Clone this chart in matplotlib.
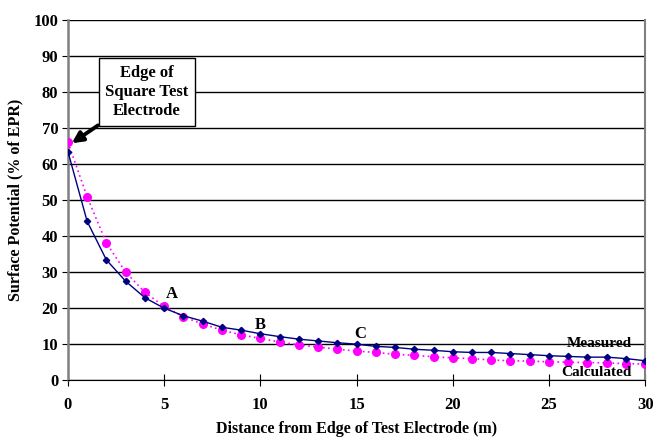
import numpy as np
import matplotlib.pyplot as plt

# Data
distance = list(range(0, 31))
measured = [63.5, 44.1, 33.4, 27.5, 22.9, 20.0, 17.9, 16.4, 14.7, 13.9,
            12.9, 12.1, 11.4, 10.9, 10.4, 10.0, 9.4, 9.1, 8.6, 8.3,
            7.9, 7.7, 7.7, 7.4, 7.1, 6.8, 6.6, 6.4, 6.4, 6.0, 5.4]
calculated = [66.1, 50.9, 38.1, 30.0, 24.4, 20.5, 17.6, 15.6, 13.9, 12.6,
              11.6, 10.6, 9.8, 9.2, 8.6, 8.1, 7.7, 7.2, 6.9, 6.5,
              6.2, 6.0, 5.6, 5.4, 5.3, 5.1, 5.0, 4.9, 4.8, 4.6, 4.5]

plt.rcParams['font.family'] = ['Liberation Serif', 'DejaVu Serif']
plt.rcParams['font.weight'] = 'bold'

fig = plt.figure(figsize=(6.53, 4.37), dpi=100)
ax = fig.add_axes([0.104, 0.130, 0.884, 0.824])

ax.plot(distance, calculated, color="#ff00ff", linestyle=(0, (1, 2)), linewidth=1.2,
        marker="o", markersize=5.5, label="Calculated", zorder=3)
ax.plot(distance, measured, color="#000080", linestyle="-", linewidth=1.0,
        marker="D", markersize=3.2, label="Measured", zorder=4)

ax.set_xlim(0, 30)
ax.set_ylim(0, 100)
ax.set_xticks(range(0, 31, 5))
ax.set_yticks(range(0, 101, 10))
ax.yaxis.grid(True, color="black", linewidth=1.0)
ax.set_axisbelow(True)

ax.spines["top"].set_visible(False)
ax.spines["bottom"].set_color("black")
ax.spines["right"].set_color("#808080")
ax.spines["right"].set_linewidth(1.5)
ax.spines["left"].set_color("#808080")
ax.spines["left"].set_linewidth(1.8)

ax.tick_params(axis="y", direction="out", length=4, labelsize=12, pad=3)
ax.tick_params(axis="x", direction="inout", length=8, labelsize=12, pad=8)
for lbl in ax.get_xticklabels() + ax.get_yticklabels():
    lbl.set_fontweight("bold")

ax.set_xlabel("Distance from Edge of Test Electrode (m)", fontsize=11.5,
              fontweight="bold", labelpad=6)
ax.set_ylabel("Surface Potential (% of EPR)", fontsize=11.5,
              fontweight="bold", labelpad=7)

# point labels
ax.text(5.4, 24, "A", fontsize=12, fontweight="bold", ha="center", va="center")
ax.text(10.0, 15.3, "B", fontsize=12, fontweight="bold", ha="center", va="center")
ax.text(15.2, 12.7, "C", fontsize=12, fontweight="bold", ha="center", va="center")
ax.text(29.3, 10.2, "Measured", fontsize=11, fontweight="bold", ha="right", va="center")
ax.text(29.3, 2.0, "Calculated", fontsize=11, fontweight="bold", ha="right", va="center")

ax.annotate("Edge of\nSquare Test\nElectrode", xy=(0.2, 65.8), xytext=(4.1, 80),
            fontsize=12, fontweight="bold", ha="center", va="center",
            linespacing=1.25,
            bbox=dict(boxstyle="square,pad=0.4", fc="white", ec="black", lw=1.0),
            arrowprops=dict(arrowstyle="-|>", color="black", lw=2.8,
                            mutation_scale=16, shrinkA=0, shrinkB=0))

plt.savefig("out.png", dpi=100)
